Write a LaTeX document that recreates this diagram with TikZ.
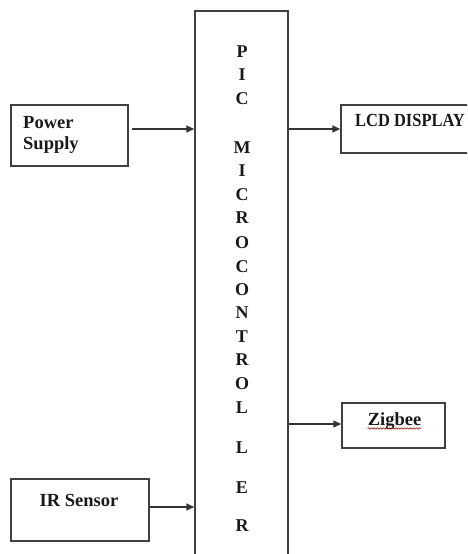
\documentclass[tikz,border=0pt]{standalone}
\usepackage{fontspec}
\setmainfont{Liberation Serif}
\usetikzlibrary{arrows.meta,decorations.pathmorphing}
\begin{document}
\begin{tikzpicture}[x=1pt,y=-1pt,
  box/.style={draw=black!75, line width=1.5pt, rectangle, inner sep=0pt},
  lbl/.style={font=\fontsize{18.5}{21}\selectfont\bfseries, inner sep=0pt, text=black!90},
  letter/.style={font=\fontsize{18}{21}\selectfont\bfseries, inner sep=0pt, anchor=base, text=black!90},
  arr/.style={draw=black!80, line width=1.5pt, -{Triangle[length=8pt,width=7pt]}},
  squiggle/.style={draw=red!60!black, line width=0.5pt, decorate,
    decoration={snake, amplitude=0.8pt, segment length=3pt}}]
\useasboundingbox (0,0) rectangle (467,554);
\clip (0,0) rectangle (467,554);
% main controller box
\node[box, minimum width=93pt, minimum height=578pt] (mcu) at (241.5,300) {};
\foreach \ch/\yy [count=\i] in {P/57, I/80, C/104, M/153, I/176, C/200, R/223, O/248, C/272, O/295, N/318, T/342, R/365, O/389, L/413, L/453, E/493, R/531}
  \node[letter] (l\i) at (242,\yy) {\ch};
% input / output boxes
\node[box, minimum width=117pt, minimum height=61pt] (ps) at (69.5,135.5) {};
\node[lbl, anchor=north west, align=left] (pst) at (23,116) {Power\\Supply};
\node[box, minimum width=139pt, minimum height=48pt] (lcd) at (410.5,129) {};
\node[lbl, anchor=base west] (lcdt) at (355,126) {\scalebox{0.89}[1]{LCD DISPLAY}};
\node[box, minimum width=103pt, minimum height=45pt] (zb) at (393.5,425.5) {};
\node[lbl, anchor=base] (zbt) at (394.5,425) {Zigbee};
\draw[squiggle] ([yshift=-3.5pt]zbt.base west) -- ([yshift=-3.5pt]zbt.base east);
\node[box, minimum width=138pt, minimum height=62pt] (ir) at (80,510) {};
\node[lbl, anchor=base] (irt) at (79,506) {IR Sensor};
% connectors
\coordinate (psout) at (132,129);
\coordinate (irout) at (150,507);
\coordinate (zbin) at ([yshift=1.5pt]zb.west);
\draw[arr] (psout) -- (psout -| mcu.west);
\draw[arr] (irout) -- (irout -| mcu.west);
\draw[arr] (mcu.east |- lcd.west) -- (lcd.west);
\draw[arr] (mcu.east |- zbin) -- (zbin);
\end{tikzpicture}
\end{document}
